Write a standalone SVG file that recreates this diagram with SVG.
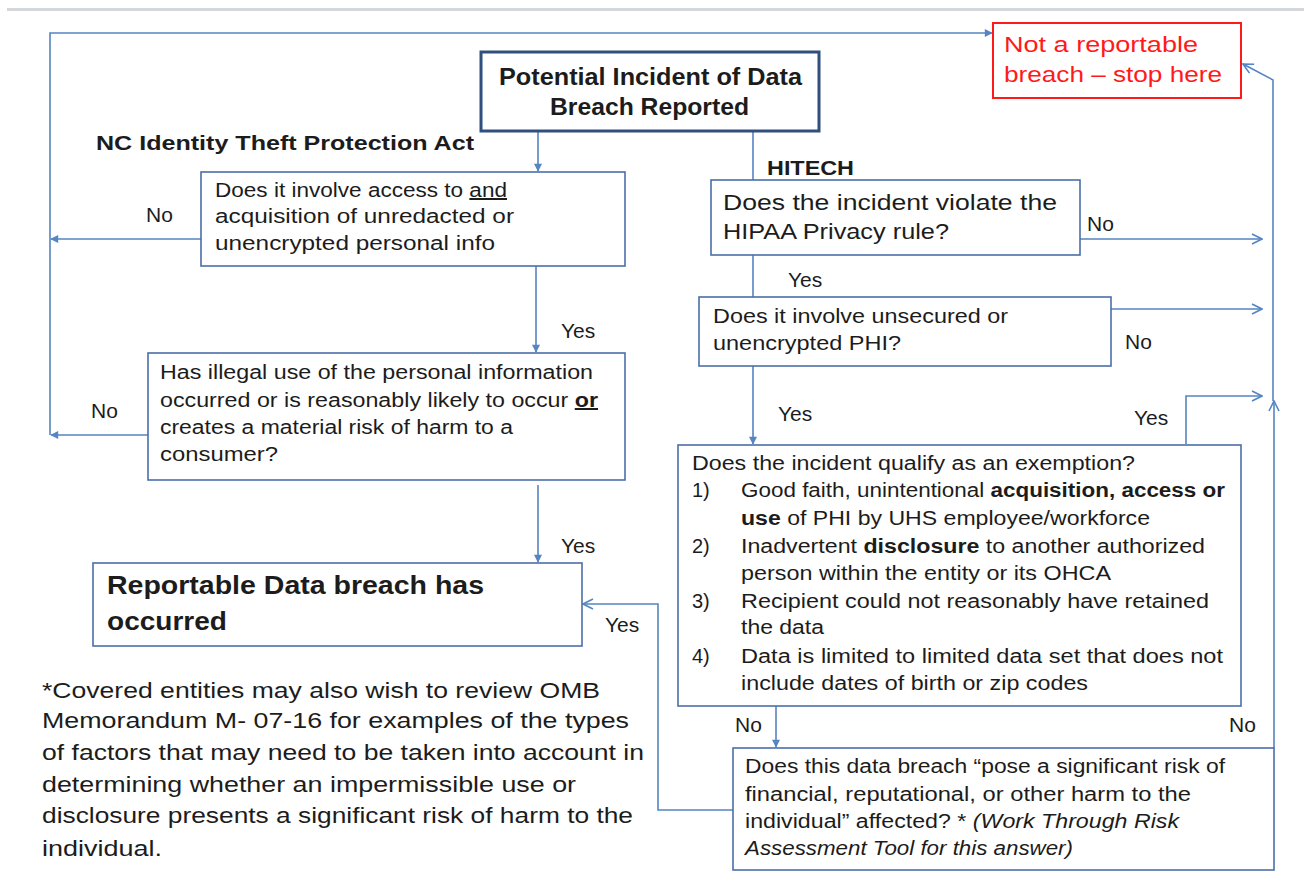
<svg xmlns="http://www.w3.org/2000/svg" width="1304" height="872" viewBox="0 0 1304 872">
  <defs>
    <style>
      text { font-family: "Liberation Sans", Arial, sans-serif; fill: #1c1c1c; }
      .box { fill: #ffffff; stroke: #4a6ea8; stroke-width: 1.6; }
      .start { fill: #ffffff; stroke: #2f4f7f; stroke-width: 3; }
      .stop { fill: #ffffff; stroke: #ff1a1a; stroke-width: 2; }
      .body { font-size: 20px; }
      .big { font-size: 22px; }
      .lbl { font-size: 21px; }
      .hd { font-size: 21px; font-weight: bold; }
      .red { font-size: 22px; fill: #ff1a1a; }
      .b { font-weight: bold; }
      .i { font-style: italic; }
      .u { text-decoration: underline; }
      .con { fill: none; stroke: #5585c2; stroke-width: 1.6; }
    </style>
    <marker id="tri" viewBox="0 0 10 10" refX="9" refY="5" markerWidth="9" markerHeight="8" markerUnits="userSpaceOnUse" orient="auto">
      <path d="M0,0 L10,5 L0,10 z" fill="#5585c2"/>
    </marker>
    <marker id="open" viewBox="0 0 12 12" refX="11" refY="6" markerWidth="12" markerHeight="12" markerUnits="userSpaceOnUse" orient="auto">
      <path d="M1,1 L11,6 L1,11" fill="none" stroke="#5585c2" stroke-width="1.6"/>
    </marker>
  </defs>

  <rect width="1304" height="872" fill="#ffffff"/>
  <!-- page rule at the top -->
  <line x1="7" y1="9.5" x2="1304" y2="9.5" stroke="#d3d6db" stroke-width="3"/>

  <!-- connectors -->
  <g id="connectors">
    <path class="con" d="M538 131 V171" marker-end="url(#tri)"/>
    <path class="con" d="M536 266 V352" marker-end="url(#tri)"/>
    <path class="con" d="M538 485 V562" marker-end="url(#tri)"/>
    <path class="con" d="M201 239 H51" marker-end="url(#tri)"/>
    <path class="con" d="M148 435 H51" marker-end="url(#tri)"/>
    <path class="con" d="M50 435 V33 H992" marker-end="url(#tri)"/>
    <path class="con" d="M753 131 V180"/>
    <path class="con" d="M753 255 V297"/>
    <path class="con" d="M753 366 V444" marker-end="url(#tri)"/>
    <path class="con" d="M776 706 V747" marker-end="url(#tri)"/>
    <path class="con" d="M1080 239 H1262" marker-end="url(#open)"/>
    <path class="con" d="M1111 309 H1262" marker-end="url(#open)"/>
    <path class="con" d="M1186 444 V396 H1262" marker-end="url(#open)"/>
    <path class="con" d="M1274 748 V401" marker-end="url(#open)"/>
    <path class="con" d="M1273 401 V80 L1243 64" marker-end="url(#open)"/>
    <path class="con" d="M733 810 H658 V604 H583" marker-end="url(#open)"/>
  </g>

  <!-- branch labels -->
  <g id="labels">
    <text class="lbl" x="146" y="222">No</text>
    <text class="lbl" x="91" y="418">No</text>
    <text class="lbl" x="561" y="338">Yes</text>
    <text class="lbl" x="561" y="553">Yes</text>
    <text class="lbl" x="605" y="632">Yes</text>
    <text class="lbl" x="1087" y="231">No</text>
    <text class="lbl" x="788" y="287">Yes</text>
    <text class="lbl" x="1125" y="349">No</text>
    <text class="lbl" x="778" y="421">Yes</text>
    <text class="lbl" x="1134" y="425">Yes</text>
    <text class="lbl" x="735" y="732">No</text>
    <text class="lbl" x="1229" y="732">No</text>
  </g>

  <g id="heading-nc">
    <text class="hd" x="96" y="150" textLength="378" lengthAdjust="spacingAndGlyphs">NC Identity Theft Protection Act</text>
  </g>
  <g id="heading-hitech">
    <text class="hd" x="767" y="175" textLength="87" lengthAdjust="spacingAndGlyphs">HITECH</text>
  </g>

  <g id="start">
    <rect class="start" x="481" y="52" width="338" height="79"/>
    <text x="499" y="85" font-size="23" font-weight="bold" textLength="303" lengthAdjust="spacingAndGlyphs">Potential Incident of Data</text>
    <text x="550" y="115" font-size="23" font-weight="bold" textLength="199" lengthAdjust="spacingAndGlyphs">Breach Reported</text>
  </g>

  <g id="not-reportable">
    <rect class="stop" x="993" y="23" width="248" height="75"/>
    <text class="red" x="1004" y="52" textLength="194" lengthAdjust="spacingAndGlyphs">Not a reportable</text>
    <text class="red" x="1004" y="82" textLength="218" lengthAdjust="spacingAndGlyphs">breach – stop here</text>
  </g>

  <g id="nc-access">
    <rect class="box" x="201" y="172" width="424" height="94"/>
    <text class="body" x="215" y="197" textLength="292" lengthAdjust="spacingAndGlyphs">Does it involve access to <tspan class="u">and</tspan></text>
    <text class="body" x="215" y="223" textLength="299" lengthAdjust="spacingAndGlyphs">acquisition of  unredacted or</text>
    <text class="body" x="215" y="250" textLength="280" lengthAdjust="spacingAndGlyphs">unencrypted personal  info</text>
  </g>

  <g id="nc-misuse">
    <rect class="box" x="148" y="353" width="477" height="127"/>
    <text class="body" x="160" y="379" textLength="433" lengthAdjust="spacingAndGlyphs">Has illegal use of the personal information</text>
    <text class="body" x="160" y="407" textLength="438" lengthAdjust="spacingAndGlyphs">occurred or is reasonably likely to occur <tspan class="b u">or</tspan></text>
    <text class="body" x="160" y="434" textLength="353" lengthAdjust="spacingAndGlyphs">creates a material risk of harm to a</text>
    <text class="body" x="160" y="461" textLength="118" lengthAdjust="spacingAndGlyphs">consumer?</text>
  </g>

  <g id="reportable">
    <rect class="box" x="93" y="563" width="489" height="83"/>
    <text x="107" y="594" font-size="26" font-weight="bold" textLength="377" lengthAdjust="spacingAndGlyphs">Reportable Data breach has</text>
    <text x="107" y="630" font-size="26" font-weight="bold" textLength="120" lengthAdjust="spacingAndGlyphs">occurred</text>
  </g>

  <g id="footnote">
    <text class="big" x="42" y="698" textLength="558" lengthAdjust="spacingAndGlyphs">*Covered entities may also wish to review OMB</text>
    <text class="big" x="42" y="728" textLength="587" lengthAdjust="spacingAndGlyphs">Memorandum M- 07-16 for examples of the types</text>
    <text class="big" x="42" y="760" textLength="602" lengthAdjust="spacingAndGlyphs">of factors that may need to be taken into account in</text>
    <text class="big" x="42" y="792" textLength="534" lengthAdjust="spacingAndGlyphs">determining whether an impermissible use or</text>
    <text class="big" x="42" y="823" textLength="591" lengthAdjust="spacingAndGlyphs">disclosure presents a significant risk of harm to the</text>
    <text class="big" x="42" y="856" textLength="120" lengthAdjust="spacingAndGlyphs">individual.</text>
  </g>

  <g id="hipaa-privacy">
    <rect class="box" x="711" y="180" width="369" height="75"/>
    <text class="big" x="723" y="210" textLength="334" lengthAdjust="spacingAndGlyphs">Does the incident violate the</text>
    <text class="big" x="723" y="239" textLength="226" lengthAdjust="spacingAndGlyphs">HIPAA Privacy rule?</text>
  </g>

  <g id="unsecured-phi">
    <rect class="box" x="699" y="297" width="412" height="69"/>
    <text class="body" x="713" y="323" textLength="295" lengthAdjust="spacingAndGlyphs">Does it involve unsecured or</text>
    <text class="body" x="713" y="350" textLength="188" lengthAdjust="spacingAndGlyphs">unencrypted PHI?</text>
  </g>

  <g id="exemption">
    <rect class="box" x="678" y="445" width="563" height="261"/>
    <text class="body" x="692" y="470" textLength="443" lengthAdjust="spacingAndGlyphs">Does the incident qualify as an exemption?</text>
    <text class="body" x="692" y="497">1)</text>
    <text class="body" x="741" y="497" textLength="484" lengthAdjust="spacingAndGlyphs">Good faith, unintentional <tspan class="b">acquisition, access or</tspan></text>
    <text class="body" x="741" y="525" textLength="409" lengthAdjust="spacingAndGlyphs"><tspan class="b">use</tspan> of PHI by UHS employee/workforce</text>
    <text class="body" x="692" y="553">2)</text>
    <text class="body" x="741" y="553" textLength="464" lengthAdjust="spacingAndGlyphs">Inadvertent <tspan class="b">disclosure</tspan> to another authorized</text>
    <text class="body" x="741" y="580" textLength="370" lengthAdjust="spacingAndGlyphs">person within the entity or its OHCA</text>
    <text class="body" x="692" y="608">3)</text>
    <text class="body" x="741" y="608" textLength="468" lengthAdjust="spacingAndGlyphs">Recipient could not reasonably have retained</text>
    <text class="body" x="741" y="634" textLength="83" lengthAdjust="spacingAndGlyphs">the data</text>
    <text class="body" x="692" y="663">4)</text>
    <text class="body" x="741" y="663" textLength="482" lengthAdjust="spacingAndGlyphs">Data is limited to limited data set that does not</text>
    <text class="body" x="741" y="690" textLength="347" lengthAdjust="spacingAndGlyphs">include dates of birth or zip codes</text>
  </g>

  <g id="risk-of-harm">
    <rect class="box" x="733" y="748" width="541" height="122"/>
    <text class="body" x="745" y="773" textLength="480" lengthAdjust="spacingAndGlyphs">Does this data breach “pose a significant risk of</text>
    <text class="body" x="745" y="801" textLength="446" lengthAdjust="spacingAndGlyphs">financial, reputational, or other harm to the</text>
    <text class="body" x="745" y="828" textLength="434" lengthAdjust="spacingAndGlyphs">individual” affected? * <tspan class="i">(Work Through Risk</tspan></text>
    <text class="body i" x="745" y="855" textLength="328" lengthAdjust="spacingAndGlyphs">Assessment Tool for this answer)</text>
  </g>
</svg>
